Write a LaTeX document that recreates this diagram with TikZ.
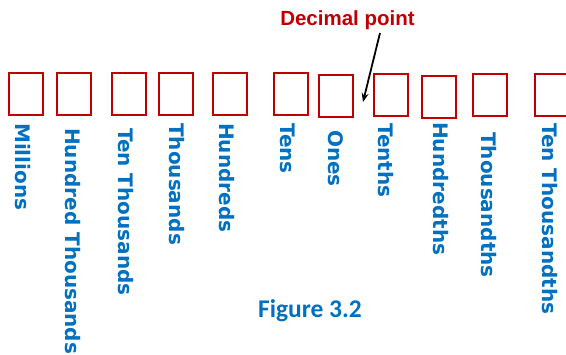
\documentclass[tikz,border=0pt]{standalone}
\usepackage{fontspec}
\setmainfont{DejaVu Sans}
\newfontfamily\labfont{DejaVu Sans}
\newfontfamily\capfont{Carlito}
\newfontfamily\dpfont{Liberation Sans}
\usetikzlibrary{arrows.meta}
\definecolor{boxred}{RGB}{192,0,0}
\definecolor{labblue}{RGB}{0,112,192}
\begin{document}
\begin{tikzpicture}[x=1pt,y=-1pt,
  placebox/.style={draw=boxred,line width=2pt,minimum width=34pt,minimum height=42pt,inner sep=0pt},
  placelab/.style={rotate=-90,anchor=west,inner sep=0pt,text=labblue,font=\labfont\bfseries\fontsize{20}{24}\selectfont},
  dptext/.style={text=boxred,font=\dpfont\bfseries\fontsize{20.5}{24}\selectfont,inner sep=0pt,anchor=base},
  figcap/.style={text=labblue,font=\capfont\bfseries\fontsize{25.5}{30}\selectfont,inner sep=0pt,anchor=base},
  pointer/.style={-{Stealth[length=9pt,width=7pt]},line width=1.8pt,black}]
\useasboundingbox (0,0) rectangle (566,355);
\node[placebox] (b1) at (26,94) {};
\node[placebox] (b2) at (74,94) {};
\node[placebox] (b3) at (128.5,94) {};
\node[placebox] (b4) at (176,94) {};
\node[placebox] (b5) at (230,94) {};
\node[placebox] (b6) at (291,94.5) {};
\node[placebox] (b7) at (336,96.5) {};
\node[placebox] (b8) at (390.5,95) {};
\node[placebox] (b9) at (438.5,97.5) {};
\node[placebox] (b10) at (490,95) {};
\node[placebox] (b11) at (552,95) {};
\node[placelab] (l1) at (22.5,123) {Millions};
\node[placelab] (l2) at (73,128) {Hundred Thousands};
\node[placelab] (l3) at (126,128) {Ten Thousands};
\node[placelab] (l4) at (177,123) {Thousands};
\node[placelab] (l5) at (227,123) {Hundreds};
\node[placelab] (l6) at (287.5,123) {Tens};
\node[placelab] (l7) at (335.5,130) {Ones};
\node[placelab] (l8) at (385.5,123) {Tenths};
\node[placelab] (l9) at (441,122) {Hundredths};
\node[placelab] (l10) at (489,132) {Thousandths};
\node[placelab] (l11) at (550,123) {Ten Thousandths};
\node[dptext] (dp) at (347.5,26) {Decimal point};
\coordinate (a1) at (380,33);
\coordinate (a2) at (363,102);
\draw[pointer] (a1) -- (a2);
\node[figcap] (fig) at (310,318) {Figure 3.2};
\end{tikzpicture}
\end{document}
